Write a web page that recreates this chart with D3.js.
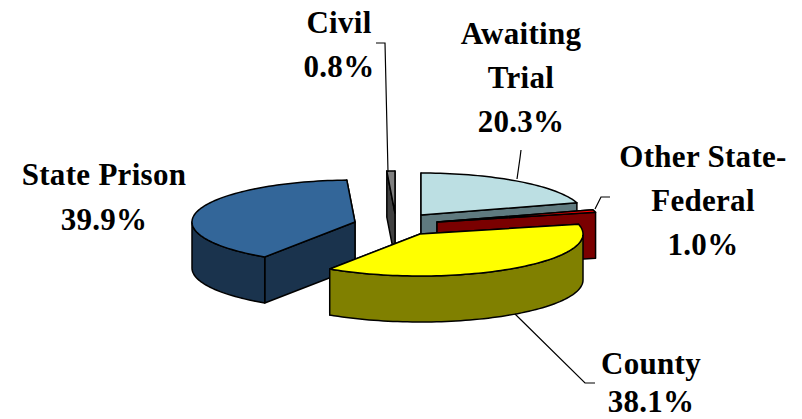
<!DOCTYPE html>
<html><head><meta charset="utf-8">
<script src="https://cdn.jsdelivr.net/npm/d3@7/dist/d3.min.js"></script>
<style>html,body{margin:0;background:#fff}svg{display:block}
text{font-family:"Liberation Serif",serif;font-weight:bold;font-size:31px;letter-spacing:.3px;fill:#000;text-anchor:middle}</style>
</head><body><svg id="c" width="802" height="419"></svg>
<script>
const categories=["Awaiting Trial","Other State-Federal","County","State Prison","Civil"];
const values=[20.3,1.0,38.1,39.9,0.8];
const topColors=["#bcdfe3","#ff0000","#ffff00","#336699","#808080"];
const wallColors=["#5f7a7f","#7a0000","#808000","#1a334d","#404040"];
const paintOrder=[0,1,4,3,2];

const labelLines=[["Awaiting","Trial","20.3%"],["Other State-","Federal","1.0%"],["County","38.1%"],["State Prison","39.9%"],["Civil","0.8%"]];
const labelAnchors=[[521,44],[703,167],[651,374],[104,185],[339,33]];
const labelLineGaps=[44,44,38,45,44];
const leaders=[
  [[521,150],[520,158],[517,179]],
  [[610,197],[601,197],[595,209]],
  [[515,314],[585,383],[595,383]],
  null,
  [[376,43],[385,43],[388,172]]
];
const apexes=[[421,215],[437,222],[420,234],[355,222],[395,213]];
const rx=163, ry=42, depth=46;

const svg=d3.select("#c");
const arcs=d3.pie().sort(null).value(d=>d).startAngle(0).endAngle(2*Math.PI)(values);
const project=(i,a,dz=0)=>[apexes[i][0]+rx*Math.sin(a),apexes[i][1]-ry*Math.cos(a)+dz];
const line=d3.line();
const stroke=s=>s.attr("stroke","#000").attr("stroke-width",1.5).attr("stroke-linejoin","round");
function rimAngles(a0,a1){const n=Math.max(2,Math.ceil((a1-a0)/0.03));return d3.range(n+1).map(k=>a0+(a1-a0)*k/n);}

paintOrder.forEach(i=>{
  const {startAngle:a0,endAngle:a1}=arcs[i];
  const g=svg.append("g");
  const ap=apexes[i], apLow=[ap[0],ap[1]+depth];
  // cut faces, the one further back first
  [a0,a1].sort((p,q)=>project(i,p)[1]-project(i,q)[1]).forEach(a=>{
    g.append("path").attr("d",line([ap,project(i,a),project(i,a,depth),apLow])+"Z").attr("fill",wallColors[i]).call(stroke);
  });
  // outer wall: front-facing part only
  const s=Math.max(a0,Math.PI/2), e=Math.min(a1,3*Math.PI/2);
  if(e>s){
    const rim=rimAngles(s,e);
    g.append("path").attr("d",line([...rim.map(a=>project(i,a)),...rim.slice().reverse().map(a=>project(i,a,depth))])+"Z").attr("fill",wallColors[i]).call(stroke);
  }
  g.append("path").attr("d",line([ap,...rimAngles(a0,a1).map(a=>project(i,a))])+"Z").attr("fill",topColors[i]).call(stroke);
});

leaders.forEach(l=>{ if(l) svg.append("path").attr("d",line(l)).attr("fill","none").attr("stroke","#000").attr("stroke-width",1.2); });
labelLines.forEach((ls,i)=>{
  const t=svg.append("text").attr("x",labelAnchors[i][0]).attr("y",labelAnchors[i][1]);
  ls.forEach((s,k)=>t.append("tspan").attr("x",labelAnchors[i][0]).attr("y",labelAnchors[i][1]+k*labelLineGaps[i]).text(s));
});
</script></body></html>
